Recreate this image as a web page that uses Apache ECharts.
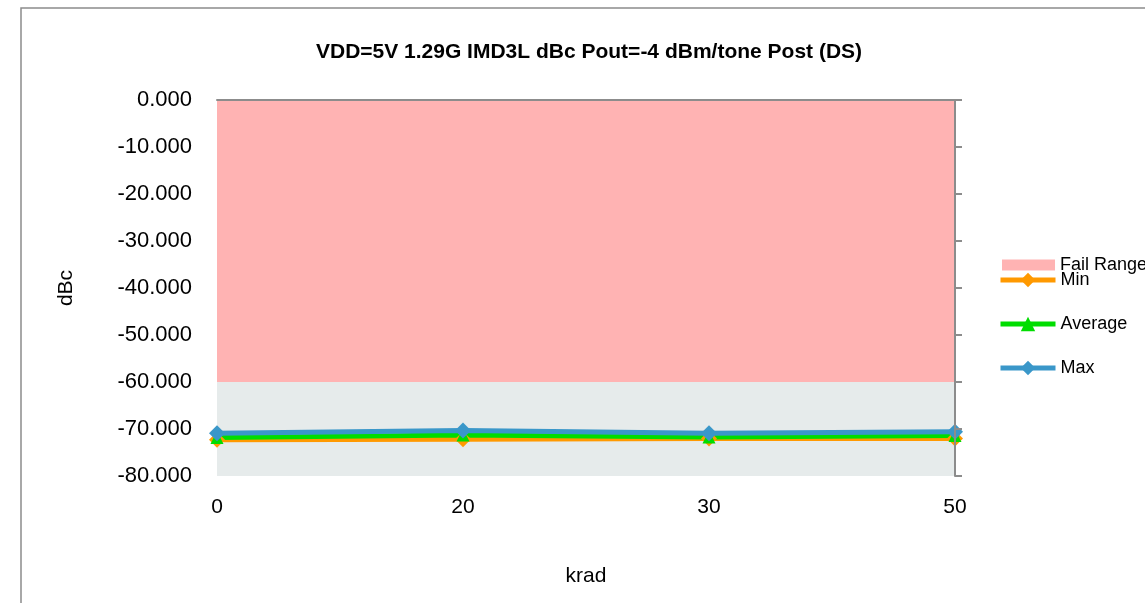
<!DOCTYPE html>
<html>
<head>
  <meta charset="utf-8">
  <title>IMD3L dBc</title>
  <script src="https://cdn.jsdelivr.net/npm/echarts@6/dist/echarts.min.js"></script>
  <style>
    html, body { margin: 0; padding: 0; background: #fff; }
    #main { width: 1145px; height: 603px; }
  </style>
</head>
<body>
<div id="main"></div>
<script>
// 数据
var krad = ['0', '20', '30', '50'];
var failLimit = [-60, -60, -60, -60];
var minVals = [-72.3, -72.2, -72.0, -72.0];
var avgVals = [-71.8, -71.3, -71.7, -71.4];
var maxVals = [-70.9, -70.3, -70.9, -70.6];

var font = 'Liberation Sans, Arial, sans-serif';
var axisGrey = '#8c8c8c';

var myChart = echarts.init(document.getElementById('main'));

function lineSeries(name, data, color, symbol) {
  return {
    name: name,
    type: 'line',
    data: data,
    symbol: symbol,
    symbolSize: symbol === 'triangle' ? 13 : 16,
    showSymbol: true,
    lineStyle: { color: color, width: 5 },
    itemStyle: { color: color },
    z: 5
  };
}

var option = {
  animation: false,
  textStyle: { fontFamily: font },
  title: {
    text: 'VDD=5V 1.29G IMD3L dBc Pout=-4 dBm/tone Post (DS)',
    left: 584,
    textAlign: 'center',
    top: 37,
    textStyle: { fontSize: 21, fontWeight: 'bold', color: '#000', fontFamily: font }
  },
  graphic: [{
    type: 'rect',
    shape: { x: 21, y: 8, width: 1200, height: 700 },
    style: { fill: 'none', stroke: '#8c8c8c', lineWidth: 1.5 },
    silent: true
  }],
  legend: [{
    orient: 'vertical',
    left: 997,
    top: 251,
    itemWidth: 53,
    itemHeight: 11,
    textStyle: { fontSize: 18, color: '#000' },
    data: [{ name: 'Fail Range', icon: 'rect' }]
  }, {
    orient: 'vertical',
    left: 993,
    top: 266,
    itemWidth: 55,
    itemHeight: 18,
    itemGap: 26,
    lineStyle: { width: 5 },
    textStyle: { fontSize: 18, color: '#000' },
    data: ['Min', 'Average', 'Max']
  }],
  grid: { left: 217, right: 190, top: 100, bottom: 127 },
  xAxis: [{
    type: 'category',
    data: krad,
    boundaryGap: false,
    name: 'krad',
    nameLocation: 'middle',
    nameGap: 90,
    nameTextStyle: { fontSize: 21, color: '#000' },
    axisLine: { show: false },
    axisTick: { show: false },
    axisLabel: { fontSize: 21, color: '#000', margin: 21 },
    splitLine: { show: false }
  }, {
    type: 'category',
    data: krad,
    boundaryGap: false,
    position: 'top',
    z: 10,
    axisLine: { show: true, lineStyle: { color: axisGrey, width: 2 } },
    axisTick: { show: false },
    axisLabel: { show: false },
    splitLine: { show: false }
  }],
  yAxis: [{
    type: 'value',
    min: -80,
    max: 0,
    interval: 10,
    name: 'dBc',
    nameLocation: 'middle',
    nameGap: 140,
    nameTextStyle: { fontSize: 21, color: '#000' },
    axisLine: { show: false },
    axisTick: { show: false },
    axisLabel: {
      fontSize: 22, color: '#000', margin: 25,
      formatter: function (v) { return v.toFixed(3); }
    },
    splitLine: { show: false }
  }, {
    type: 'value',
    min: -80,
    max: 0,
    interval: 10,
    position: 'right',
    z: 10,
    axisLine: { show: true, lineStyle: { color: axisGrey, width: 2 } },
    axisTick: { show: true, inside: false, length: 7, lineStyle: { color: axisGrey, width: 2 } },
    axisLabel: { show: false },
    splitLine: { show: false }
  }],
  series: [{
    name: 'Fail Range',
    type: 'line',
    data: failLimit,
    symbol: 'none',
    lineStyle: { width: 0 },
    itemStyle: { color: '#ffb3b3' },
    areaStyle: { color: '#ffb3b3', opacity: 1, origin: 'end' },
    z: 1
  }, {
    name: 'Pass',
    type: 'line',
    data: failLimit,
    symbol: 'none',
    lineStyle: { width: 0 },
    itemStyle: { color: '#e6ebeb' },
    areaStyle: { color: '#e6ebeb', opacity: 1, origin: 'start' },
    z: 1
  },
    lineSeries('Min', minVals, '#ff9900', 'diamond'),
    lineSeries('Average', avgVals, '#00dd00', 'triangle'),
    lineSeries('Max', maxVals, '#3a97c9', 'diamond')
  ]
};

myChart.setOption(option);
</script>
</body>
</html>
